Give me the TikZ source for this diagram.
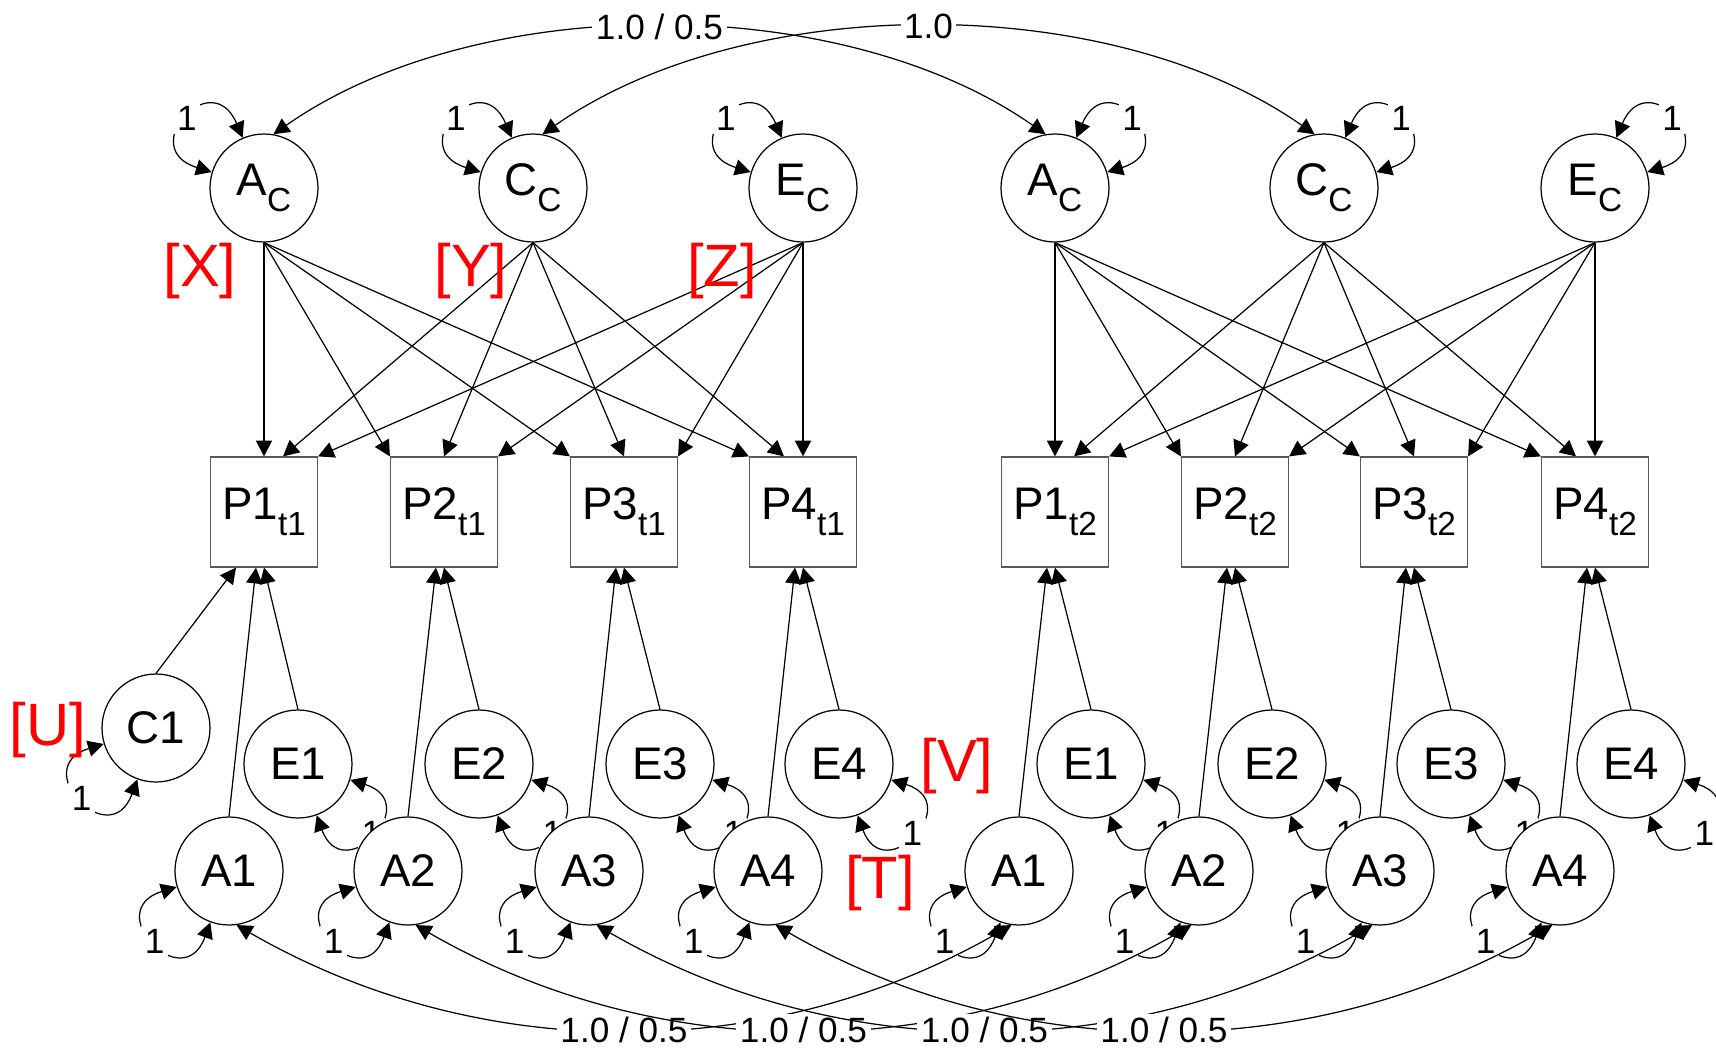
\documentclass[tikz,border=0pt]{standalone}
\usepackage{fontspec}
\setmainfont{Liberation Sans}
\usetikzlibrary{arrows.meta, calc}
\newcommand{\lowsub}[1]{\raisebox{-0.35em}{\fontsize{9.5}{11}\selectfont #1}}

\begin{document}
\begin{tikzpicture}[
    >={Triangle[length=4.5pt, width=4.6pt]},
    line width=0.35pt,
    latent/.style={draw, circle, minimum size=1.08cm, inner sep=0pt, fill=white, font=\fontsize{13}{16}\selectfont},
    manifest/.style={draw=black!65, rectangle, minimum width=1.07cm, minimum height=1.10cm, inner sep=0pt, font=\fontsize{13}{16}\selectfont},
    tag/.style={text=red, font=\fontsize{17}{20}\selectfont},
    one/.style={fill=white, inner sep=1pt, font=\fontsize{10}{12}\selectfont},
    ul/.style={out=163, in=113, distance=8mm},
    ur/.style={out=17, in=67, distance=8mm},
    dl/.style={out=197, in=250, distance=8mm},
    dr/.style={out=343, in=290, distance=7.8mm}
]
\useasboundingbox (0,0) rectangle (17.16,-10.50);

% common factors
\node[latent] (ACt1) at (2.64, -1.88) {A\lowsub{C}};
\node[latent] (CCt1) at (5.33, -1.88) {C\lowsub{C}};
\node[latent] (ECt1) at (8.03, -1.88) {E\lowsub{C}};
\node[latent] (ACt2) at (10.55, -1.88) {A\lowsub{C}};
\node[latent] (CCt2) at (13.24, -1.88) {C\lowsub{C}};
\node[latent] (ECt2) at (15.95, -1.88) {E\lowsub{C}};

% phenotypes
\node[manifest] (P1t1) at (2.64, -5.12) {P1\lowsub{t1}};
\node[manifest] (P2t1) at (4.44, -5.12) {P2\lowsub{t1}};
\node[manifest] (P3t1) at (6.24, -5.12) {P3\lowsub{t1}};
\node[manifest] (P4t1) at (8.03, -5.12) {P4\lowsub{t1}};
\node[manifest] (P1t2) at (10.55, -5.12) {P1\lowsub{t2}};
\node[manifest] (P2t2) at (12.35, -5.12) {P2\lowsub{t2}};
\node[manifest] (P3t2) at (14.14, -5.12) {P3\lowsub{t2}};
\node[manifest] (P4t2) at (15.95, -5.12) {P4\lowsub{t2}};

% specific factors
\node[latent] (C1) at (1.56, -7.28) {C1};
\node[latent] (E1t1) at (2.98, -7.64) {E1};
\node[latent] (E2t1) at (4.79, -7.64) {E2};
\node[latent] (E3t1) at (6.60, -7.64) {E3};
\node[latent] (E4t1) at (8.39, -7.64) {E4};
\node[latent] (E1t2) at (10.91, -7.64) {E1};
\node[latent] (E2t2) at (12.72, -7.64) {E2};
\node[latent] (E3t2) at (14.51, -7.64) {E3};
\node[latent] (E4t2) at (16.31, -7.64) {E4};

\draw[<->] (E1t1) to[dr] node[one] {1} (E1t1);
\draw[<->] (E2t1) to[dr] node[one] {1} (E2t1);
\draw[<->] (E3t1) to[dr] node[one] {1} (E3t1);
\draw[<->] (E4t1) to[dr] node[one] {1} (E4t1);
\draw[<->] (E1t2) to[dr] node[one] {1} (E1t2);
\draw[<->] (E2t2) to[dr] node[one] {1} (E2t2);
\draw[<->] (E3t2) to[dr] node[one] {1} (E3t2);
\draw[<->] (E4t2) to[dr] node[one] {1} (E4t2);

\node[latent] (A1t1) at (2.29, -8.71) {A1};
\node[latent] (A2t1) at (4.08, -8.71) {A2};
\node[latent] (A3t1) at (5.89, -8.71) {A3};
\node[latent] (A4t1) at (7.68, -8.71) {A4};
\node[latent] (A1t2) at (10.19, -8.71) {A1};
\node[latent] (A2t2) at (11.99, -8.71) {A2};
\node[latent] (A3t2) at (13.80, -8.71) {A3};
\node[latent] (A4t2) at (15.60, -8.71) {A4};

% variances
\draw[<->] (ACt1) to[ul] node[one] {1} (ACt1);
\draw[<->] (CCt1) to[ul] node[one] {1} (CCt1);
\draw[<->] (ECt1) to[ul] node[one] {1} (ECt1);
\draw[<->] (ACt2) to[ur] node[one] {1} (ACt2);
\draw[<->] (CCt2) to[ur] node[one] {1} (CCt2);
\draw[<->] (ECt2) to[ur] node[one] {1} (ECt2);
\draw[<->] (C1) to[dl] node[one] {1} (C1);
\draw[<->] (A1t1) to[dl] node[one] {1} (A1t1);
\draw[<->] (A2t1) to[dl] node[one] {1} (A2t1);
\draw[<->] (A3t1) to[dl] node[one] {1} (A3t1);
\draw[<->] (A4t1) to[dl] node[one] {1} (A4t1);
\draw[<->] (A1t2) to[dl] node[one] {1} (A1t2);
\draw[<->] (A2t2) to[dl] node[one] {1} (A2t2);
\draw[<->] (A3t2) to[dl] node[one] {1} (A3t2);
\draw[<->] (A4t2) to[dl] node[one] {1} (A4t2);

% loadings, time 1
\draw[->] (ACt1.south) -- (P1t1.north); \draw[->] (ACt1.south) -- (P2t1.north west); \draw[->] (ACt1.south) -- (P3t1.north west); \draw[->] (ACt1.south) -- (P4t1.north west);
\draw[->] (CCt1.south) -- ([xshift=1.9mm]P1t1.north); \draw[->] (CCt1.south) -- (P2t1.north); \draw[->] (CCt1.south) -- (P3t1.north); \draw[->] (CCt1.south) -- ([xshift=-1.9mm]P4t1.north);
\draw[->] (ECt1.south) -- (P1t1.north east); \draw[->] (ECt1.south) -- (P2t1.north east); \draw[->] (ECt1.south) -- (P3t1.north east); \draw[->] (ECt1.south) -- (P4t1.north);
% loadings, time 2
\draw[->] (ACt2.south) -- (P1t2.north); \draw[->] (ACt2.south) -- (P2t2.north west); \draw[->] (ACt2.south) -- (P3t2.north west); \draw[->] (ACt2.south) -- (P4t2.north west);
\draw[->] (CCt2.south) -- ([xshift=1.9mm]P1t2.north); \draw[->] (CCt2.south) -- (P2t2.north); \draw[->] (CCt2.south) -- (P3t2.north); \draw[->] (CCt2.south) -- ([xshift=-1.9mm]P4t2.north);
\draw[->] (ECt2.south) -- (P1t2.north east); \draw[->] (ECt2.south) -- (P2t2.north east); \draw[->] (ECt2.south) -- (P3t2.north east); \draw[->] (ECt2.south) -- (P4t2.north);

% specific paths
\draw[->] (C1.north) -- ([xshift=-2.8mm]P1t1.south);
\draw[->] (A1t1.north) -- ([xshift=-0.8mm]P1t1.south); \draw[->] (E1t1.north) -- (P1t1.south);
\draw[->] (A2t1.north) -- ([xshift=-0.8mm]P2t1.south); \draw[->] (E2t1.north) -- (P2t1.south);
\draw[->] (A3t1.north) -- ([xshift=-0.8mm]P3t1.south); \draw[->] (E3t1.north) -- (P3t1.south);
\draw[->] (A4t1.north) -- ([xshift=-0.8mm]P4t1.south); \draw[->] (E4t1.north) -- (P4t1.south);
\draw[->] (A1t2.north) -- ([xshift=-0.8mm]P1t2.south); \draw[->] (E1t2.north) -- (P1t2.south);
\draw[->] (A2t2.north) -- ([xshift=-0.8mm]P2t2.south); \draw[->] (E2t2.north) -- (P2t2.south);
\draw[->] (A3t2.north) -- ([xshift=-0.8mm]P3t2.south); \draw[->] (E3t2.north) -- (P3t2.south);
\draw[->] (A4t2.north) -- ([xshift=-0.8mm]P4t2.south); \draw[->] (E4t2.north) -- (P4t2.south);

% twin covariances
\draw[<->] (ACt1.80) to[out=35, in=145, distance=2.5cm] node[one] {1.0 / 0.5} (ACt2.100);
\draw[<->] (CCt1.80) to[out=35, in=145, distance=2.5cm] node[one] {1.0} (CCt2.100);
\draw[<->] (A1t1.278) to[out=-30, in=210, distance=2.8cm] node[one] {1.0 / 0.5} (A1t2.262);
\draw[<->] (A2t1.278) to[out=-30, in=210, distance=2.8cm] node[one] {1.0 / 0.5} (A2t2.262);
\draw[<->] (A3t1.278) to[out=-30, in=210, distance=2.8cm] node[one] {1.0 / 0.5} (A3t2.262);
\draw[<->] (A4t1.278) to[out=-30, in=210, distance=2.8cm] node[one] {1.0 / 0.5} (A4t2.262);

% tags
\node[tag] (tX) at (2.00, -2.71) {[X]};
\node[tag] (tY) at (4.71, -2.71) {[Y]};
\node[tag] (tZ) at (7.22, -2.71) {[Z]};
\node[tag] (tU) at (0.48, -7.30) {[U]};
\node[tag] (tV) at (9.57, -7.66) {[V]};
\node[tag] (tT) at (8.80, -8.83) {[T]};
\end{tikzpicture}
\end{document}
